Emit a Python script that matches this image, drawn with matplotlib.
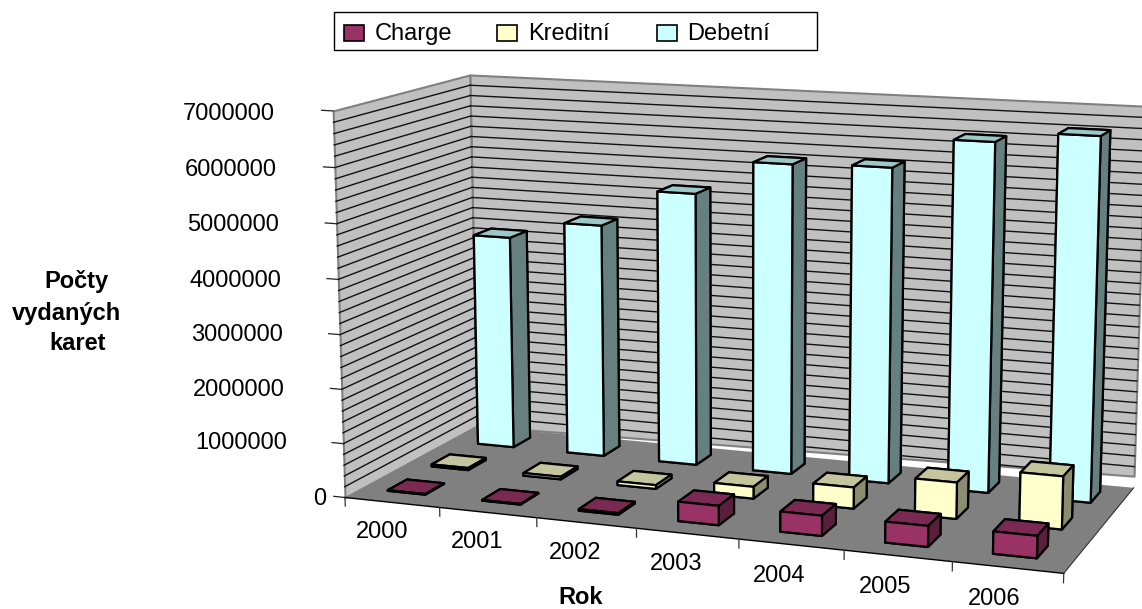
import numpy as np
import matplotlib
matplotlib.use('Agg')
import matplotlib.pyplot as plt
from matplotlib.patches import Rectangle
from mpl_toolkits.mplot3d import proj3d
from mpl_toolkits.mplot3d.art3d import Poly3DCollection

plt.rcParams['font.family'] = ['Liberation Sans', 'DejaVu Sans']
plt.rcParams['font.size'] = 17

W, H = 1142, 609

years = ['2000', '2001', '2002', '2003', '2004', '2005', '2006']
charge = [12000, 12000, 30000, 350000, 360000, 370000, 390000]
kreditni = [40000, 50000, 70000, 220000, 390000, 660000, 950000]
debetni = [4100000, 4450000, 5160000, 5810000, 5850000, 6410000, 6610000]
z_ticks = [0, 1000000, 2000000, 3000000, 4000000, 5000000, 6000000, 7000000]

# name, values, then front, top and side colours
series = [
    ('Charge', charge, '#993366', '#7A2952', '#5A1F3D'),
    ('Kreditní', kreditni, '#FFFFCC', '#C4C49E', '#8C8C70'),
    ('Debetní', debetni, '#CCFFFF', '#9CC8C8', '#668080'),
]
# where each row of bars stands on the floor
row_x = [0.275, 0.275, 0.325]
row_y = [0.12, 0.445, 0.775]

Z_MAX = 7000000
WALL_GAP = 220000
N = len(years)

fig = plt.figure(figsize=(W / 100, H / 100), dpi=100)
S = 1000
cx, cy = 728.54, 316.94
ax = fig.add_axes([(cx - S / 2) / W, 1 - (cy + S / 2) / H, S / W, S / H], projection='3d', computed_zorder=False)
ax.set_xlim(0, N, view_margin=0)
ax.set_ylim(0, 1, view_margin=0)
ax.set_zlim(0, Z_MAX, view_margin=0)
ax.view_init(11.788, -70.05, -0.025)
ax.set_proj_type('persp', focal_length=0.5008)
ax.set_box_aspect((1, 0.4166, 0.5304), zoom=0.866)
ax.set_axis_off()
M = ax.get_proj()


def label(x, y, z, s):
    # flat text anchored at a point of the 3d box
    x2, y2, _ = proj3d.proj_transform(x, y, z, M)
    ax.text2D(x2, y2, s, ha='right' if x < 0 else 'center', va='center')


# walls and floor
back_wall = [(0, 1, 0), (N, 1, WALL_GAP), (N, 1, Z_MAX), (0, 1, Z_MAX)]
side_wall = [(0, 0, 0), (0, 1, 0), (0, 1, Z_MAX), (0, 0, Z_MAX)]
floor = [(0, 0, 0), (N, 0, 0), (N, 1, 0), (0, 1, 0)]
for poly, face, edge in [(back_wall, '#C0C0C0', '#808080'), (side_wall, '#C0C0C0', '#808080'), (floor, '#808080', 'none')]:
    pc = Poly3DCollection([poly], facecolors=face, edgecolors=edge, linewidths=1.5)
    pc.set_zorder(1)
    ax.add_collection3d(pc)

# gridlines every 200000
for z in np.arange(200000, Z_MAX, 200000):
    ax.plot([0, 0], [0, 1], [z, z], color='#111111', lw=1.0, zorder=2)
    ax.plot([0, min(N, N * z / WALL_GAP)], [1, 1], [z, z], color='#111111', lw=1.0, zorder=2)

# floor outline and ticks
ax.plot([0, N], [0, 0], [0, 0], color='black', lw=1.0, zorder=3)
ax.plot([N, N], [0, 1], [0, 0], color='#333333', lw=0.8, zorder=3)
for i in range(N + 1):
    ax.plot([i, i], [0, 0], [0, -160000], color='#333333', lw=0.9, zorder=3)
for v in z_ticks:
    ax.plot([-0.12, 0], [0, 0], [v, v], color='#222222', lw=0.9, zorder=3)
    if v == 0:
        label(-0.2, 0, -70000, '0')
    else:
        label(-0.61, 0, v - 100000, str(v))

# bars from the back row to the front, left to right
order = 4
for r in [2, 1, 0]:
    name, values, front, top, side = series[r]
    for i, val in enumerate(values):
        # bar3d face order: bottom, top, front, back, left, right
        colors = [top, top, front, front, side, side]
        b = ax.bar3d(i + row_x[r], row_y[r], 0, 0.4, 0.14, val, color=colors, shade=False,
                     edgecolor='black', linewidth=1.6)
        b.set_zorder(order)
        order += 1

for i, y in enumerate(years):
    label(i + 0.385, 0, -570000, y)


def fx(x):
    return x / W


def fy(y):
    return 1 - y / H


# legend box
fig.add_artist(Rectangle((fx(333.5), fy(50)), 483.5 / W, 38 / H, transform=fig.transFigure,
                         facecolor='white', edgecolor='black', lw=1.0))
for (name, values, front, top, side), sx, tx in zip(series, [344, 497, 657], [375, 528, 687]):
    fig.add_artist(Rectangle((fx(sx), fy(41)), 20 / W, 16 / H, transform=fig.transFigure,
                             facecolor=front, edgecolor='black', lw=1.2))
    fig.text(fx(tx), fy(40), name, ha='left', va='baseline')

# axis titles
fig.text(fx(76.5), fy(288), 'Počty', ha='center', va='baseline', fontweight='bold')
fig.text(fx(66.5), fy(320), 'vydaných', ha='center', va='baseline', fontweight='bold')
fig.text(fx(78), fy(350), 'karet', ha='center', va='baseline', fontweight='bold')
fig.text(fx(581), fy(604), 'Rok', ha='center', va='baseline', fontweight='bold')

fig.savefig('out.png', dpi=100)
